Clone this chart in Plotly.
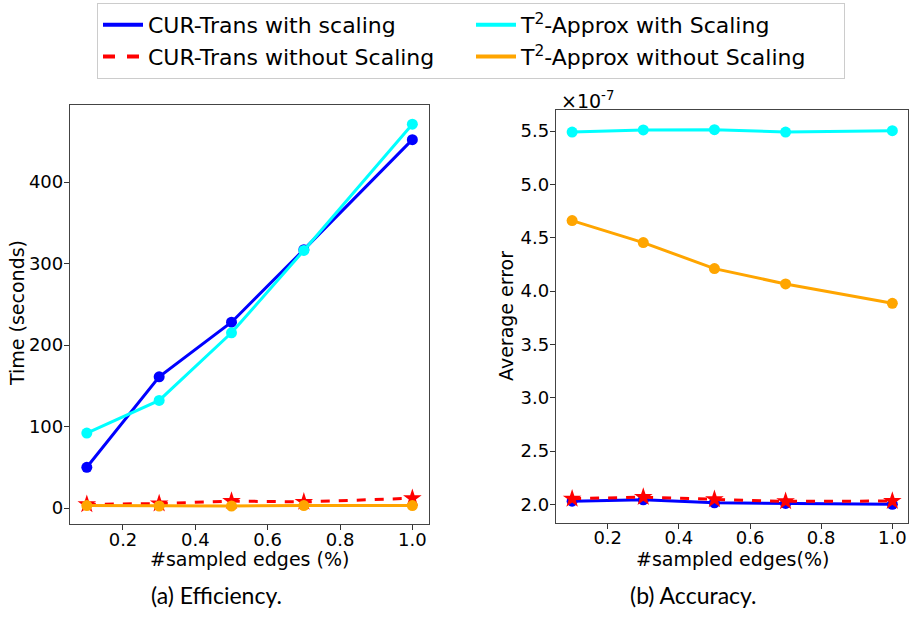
import plotly.graph_objects as go

# ---- data ----
x_frac = [0.1, 0.3, 0.5, 0.7, 1.0]

# (a) Efficiency: time in seconds
time_cur_scaling = [50, 161, 228, 317, 452]
time_cur_noscaling = [4.5, 5.5, 8.5, 7.5, 12]
time_t2_scaling = [92, 132, 215, 316, 471]
time_t2_noscaling = [3, 2.5, 2.5, 3, 3]

# (b) Accuracy: average error, in units of 1e-7
err_cur_scaling = [2.03, 2.043, 2.015, 2.009, 2.0]
err_cur_noscaling = [2.053, 2.068, 2.047, 2.028, 2.031]
err_t2_scaling = [5.49, 5.51, 5.512, 5.49, 5.503]
err_t2_noscaling = [4.66, 4.454, 4.21, 4.066, 3.885]

names = ["CUR-Trans with scaling", "CUR-Trans without Scaling",
         "T<sup>2</sup>-Approx with Scaling", "T<sup>2</sup>-Approx without Scaling"]
colors = ["#0000ff", "#ff0000", "#00ffff", "#ffa500"]
ranks = [1, 3, 2, 4]

W, H = 911, 619
FONT = "DejaVu Sans"

fig = go.Figure()

left = [time_cur_scaling, time_cur_noscaling, time_t2_scaling, time_t2_noscaling]
right = [err_cur_scaling, err_cur_noscaling, err_t2_scaling, err_t2_noscaling]

for i in range(4):
    dash = "dash" if i == 1 else "solid"
    sym = "star" if i == 1 else "circle"
    msize = 14 if i == 1 else 11
    for ys, xa, ya in [(left[i], "x", "y"), (right[i], "x2", "y2")]:
        fig.add_trace(go.Scatter(
            x=x_frac, y=ys, xaxis=xa, yaxis=ya,
            mode="lines+markers", showlegend=False,
            line=dict(color=colors[i], width=3, dash=dash),
            marker=dict(color=colors[i], symbol=sym, size=msize, line=dict(width=0)),
        ))
    # legend-only line entry (matplotlib legend shows lines only)
    fig.add_trace(go.Scatter(
        x=[None], y=[None], mode="lines", name=names[i], legendrank=ranks[i],
        line=dict(color=colors[i], width=4, dash=dash), showlegend=True,
    ))

axis_common = dict(showline=True, mirror=True, linecolor="#444", linewidth=1.3,
                   ticks="outside", ticklen=5, tickwidth=1.2, tickcolor="#333",
                   showgrid=False, zeroline=False,
                   tickfont=dict(family=FONT, size=18, color="black"))

fig.update_layout(
    width=W, height=H,
    margin=dict(l=0, r=0, t=0, b=0),
    plot_bgcolor="white", paper_bgcolor="white",
    font=dict(family=FONT, color="black"),
    xaxis=dict(domain=[70 / W, 429 / W], range=[0.0535, 1.046], anchor="y",
               tickvals=[0.2, 0.4, 0.6, 0.8, 1.0], tickformat=".1f",
               ticklabelstandoff=-6, **axis_common),
    yaxis=dict(domain=[1 - 524 / H, 1 - 105 / H], range=[-19.6, 494.5], anchor="x",
               tickvals=[0, 100, 200, 300, 400], ticklabelstandoff=-3, **axis_common),
    xaxis2=dict(domain=[556 / W, 908 / W], range=[0.0547, 1.044], anchor="y2",
                tickvals=[0.2, 0.4, 0.6, 0.8, 1.0], tickformat=".1f",
                ticklabelstandoff=-6, **axis_common),
    yaxis2=dict(domain=[1 - 522.7 / H, 1 - 110 / H], range=[1.828, 5.697], anchor="x2",
                tickvals=[2.0, 2.5, 3.0, 3.5, 4.0, 4.5, 5.0, 5.5], tickformat=".1f",
                ticklabelstandoff=-3, **axis_common),
    legend=dict(orientation="h", x=97 / W, y=1 - 3 / H, xanchor="left", yanchor="top",
                bordercolor="#ccc", borderwidth=1, bgcolor="white",
                font=dict(family=FONT, size=22, color="black"),
                entrywidth=318, tracegroupgap=0, itemwidth=40),
)

ann = [
    dict(text="#sampled edges (%)", x=249 / W, y=1 - 559 / H, size=19, angle=0, fam=FONT),
    dict(text="#sampled edges(%)", x=732 / W, y=1 - 559 / H, size=19, angle=0, fam=FONT),
    dict(text="Time (seconds)", x=17 / W, y=1 - 313 / H, size=19, angle=-90, fam=FONT),
    dict(text="Average error", x=506 / W, y=1 - 316 / H, size=19, angle=-90, fam=FONT),
    dict(text="(a) Efficiency.", x=216 / W, y=1 - 595 / H, size=23, angle=0, fam="Lato"),
    dict(text="(b) Accuracy.", x=693 / W, y=1 - 595 / H, size=23, angle=0, fam="Lato"),
    dict(text="×10<sup>-7</sup>", x=587 / W, y=1 - 100 / H, size=19, angle=0, fam=FONT),
]
for a in ann:
    fig.add_annotation(text=a["text"], x=a["x"], y=a["y"], xref="paper", yref="paper",
                       showarrow=False, textangle=a["angle"], xanchor="center", yanchor="middle",
                       font=dict(family=a["fam"], size=a["size"], color="black"))

fig.write_html("out.html")
